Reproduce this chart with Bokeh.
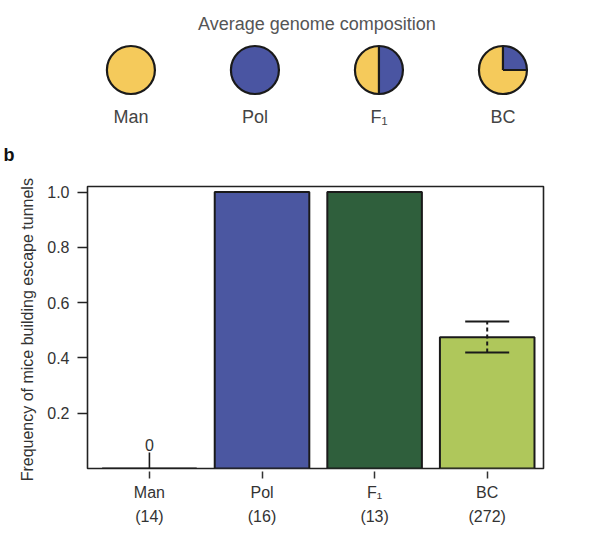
import math
from bokeh.plotting import figure
from bokeh.models import (Range1d, FixedTicker, LinearAxis, ColumnDataSource,
                          Whisker, TeeHead, PrintfTickFormatter)
from bokeh.layouts import column
from bokeh.core.properties import value
from bokeh.embed import file_html
from bokeh.resources import INLINE

# ---------------- data ----------------
groups = ["Man", "Pol", "F\u2081", "BC"]
sample_sizes = [14, 16, 13, 272]
frequency = [0.0, 1.0, 1.0, 0.475]
err_lower = [0.0, 1.0, 1.0, 0.42]
err_upper = [0.0, 1.0, 1.0, 0.532]
pol_fraction = [0.0, 1.0, 0.5, 0.25]       # share of Pol genome (blue)
bar_colors = ["#ffffff", "#4b57a1", "#2f5f3c", "#afc75b"]
y_ticks = [0.2, 0.4, 0.6, 0.8, 1.0]
panel_letter = "b"

MAN_COLOR = "#f5ca5b"
POL_COLOR = "#4a55a2"
FONT = "Liberation Sans"
TXT = "#333333"

xs = list(range(len(groups)))

# ---------------- top panel: average genome composition ----------------
TOP_H = 165
top = figure(width=582, height=TOP_H, x_range=Range1d(-0.35, 3.327),
             y_range=Range1d(0, TOP_H), output_backend="svg",
             toolbar_location=None, min_border_top=0, min_border_bottom=0,
             min_border_left=86, min_border_right=39,
             x_axis_location=None, y_axis_location=None)
top.outline_line_color = None
top.grid.visible = False

R = 24
CY = 95.5
base_colors = [POL_COLOR if f >= 1 else MAN_COLOR for f in pol_fraction]
top.scatter(xs, [CY] * len(xs), marker="circle", size=2 * R,
            fill_color=base_colors, line_color=None)
wx, wstart, wend = [], [], []
rx, rang = [], []
for i, f in enumerate(pol_fraction):
    if 0 < f < 1:
        wx.append(i)
        wstart.append(math.pi / 2 - 2 * math.pi * f)
        wend.append(math.pi / 2)
        rx += [i, i]
        rang += [math.pi / 2, math.pi / 2 - 2 * math.pi * f]
top.wedge(x=wx, y=[CY] * len(wx), radius=R, radius_units="screen",
          start_angle=wstart, end_angle=wend, direction="anticlock",
          fill_color=POL_COLOR, line_color=None)
top.ray(x=rx, y=[CY] * len(rx), length=R, length_units="screen",
        angle=rang, line_color="#1a1a1a", line_width=2.2)
top.scatter(xs, [CY] * len(xs), marker="circle", size=2 * R,
            fill_color=None, line_color="#1a1a1a", line_width=2.2)

top.text(x=xs, y=[49] * len(xs), text=groups, text_align="center",
         text_baseline="middle", text_font=value(FONT),
         text_font_size="18px", text_color="#444444")
top.text(x=[sum(xs) / len(xs)], y=[142], text=["Average genome composition"],
         text_align="center", text_baseline="middle", text_font=value(FONT),
         text_font_size="18px", text_color="#555555")

# panel letter, drawn as the single label of an otherwise invisible axis
LETTER_Y = 9
baxis = LinearAxis(ticker=FixedTicker(ticks=[LETTER_Y]),
                   major_label_overrides={LETTER_Y: panel_letter})
baxis.axis_line_color = None
baxis.major_tick_line_color = None
baxis.minor_tick_line_color = None
baxis.major_tick_out = 0
baxis.major_tick_in = 0
baxis.major_label_standoff = 73
baxis.major_label_text_font = FONT
baxis.major_label_text_font_size = "18px"
baxis.major_label_text_font_style = "bold"
baxis.major_label_text_color = "#111111"
top.add_layout(baxis, "left")

# ---------------- bottom panel: bar chart ----------------
p = figure(width=582, height=528 - TOP_H, x_range=Range1d(-0.55, 3.5),
           y_range=Range1d(0, 1.02), output_backend="svg",
           toolbar_location=None, min_border_left=86, min_border_right=39,
           min_border_top=21, min_border_bottom=60,
           x_axis_location=None, y_axis_location=None)
p.grid.visible = False
p.outline_line_color = "#222222"
p.outline_line_width = 1.6

p.vbar(x=xs, top=frequency, width=0.84, bottom=0, fill_color=bar_colors,
       line_color="#1a1a1a", line_width=2)

# error bars
ei = [i for i in xs if err_upper[i] > err_lower[i]]
esrc = ColumnDataSource(dict(x=ei, lower=[err_lower[i] for i in ei],
                             upper=[err_upper[i] for i in ei]))
w = Whisker(base="x", lower="lower", upper="upper", source=esrc,
            line_color="#1a1a1a", line_width=2, line_dash="4 3",
            level="overlay",
            upper_head=TeeHead(size=44, line_color="#1a1a1a", line_width=2),
            lower_head=TeeHead(size=44, line_color="#1a1a1a", line_width=2))
p.add_layout(w)

# zero-value markers
zi = [i for i in xs if frequency[i] == 0]
p.ray(x=zi, y=[frequency[i] for i in zi], length=16, length_units="screen",
      angle=math.pi / 2, line_color="#1a1a1a", line_width=1.6)
p.text(x=zi, y=[frequency[i] for i in zi],
       text=["%g" % frequency[i] for i in zi], y_offset=-18,
       text_align="center", text_baseline="bottom", text_font=value(FONT),
       text_font_size="16px", text_color=TXT)

# y axis
yaxis = LinearAxis(ticker=FixedTicker(ticks=y_ticks),
                   formatter=PrintfTickFormatter(format="%.1f"),
                   axis_label="Frequency of  mice building escape tunnels")
yaxis.axis_line_color = None
yaxis.major_tick_out = 10
yaxis.major_tick_in = 0
yaxis.minor_tick_line_color = None
yaxis.major_tick_line_color = "#222222"
yaxis.major_tick_line_width = 1.6
yaxis.major_label_standoff = 8
yaxis.major_label_text_font = FONT
yaxis.major_label_text_font_size = "16px"
yaxis.major_label_text_color = TXT
yaxis.axis_label_standoff = 8
yaxis.axis_label_text_font = FONT
yaxis.axis_label_text_font_size = "16px"
yaxis.axis_label_text_font_style = "normal"
yaxis.axis_label_text_color = TXT
p.add_layout(yaxis, "left")

# x axes: group names with ticks, then sample sizes
xaxis = LinearAxis(ticker=FixedTicker(ticks=xs),
                   major_label_overrides={i: groups[i] for i in xs})
xaxis.axis_line_color = None
xaxis.major_tick_out = 10
xaxis.major_tick_in = -3
xaxis.minor_tick_line_color = None
xaxis.major_tick_line_color = "#333333"
xaxis.major_tick_line_width = 1.5
xaxis.major_label_standoff = 5
xaxis.major_label_text_font = FONT
xaxis.major_label_text_font_size = "16px"
xaxis.major_label_text_color = TXT
p.add_layout(xaxis, "below")

naxis = LinearAxis(ticker=FixedTicker(ticks=xs),
                   major_label_overrides={i: "(%d)" % sample_sizes[i] for i in xs})
naxis.axis_line_color = None
naxis.major_tick_line_color = None
naxis.minor_tick_line_color = None
naxis.major_tick_out = 0
naxis.major_tick_in = 0
naxis.major_label_standoff = 4
naxis.major_label_text_font = FONT
naxis.major_label_text_font_size = "16px"
naxis.major_label_text_color = TXT
p.add_layout(naxis, "below")

layout = column(top, p, spacing=0)
open("out.html", "w").write(file_html(layout, INLINE))
